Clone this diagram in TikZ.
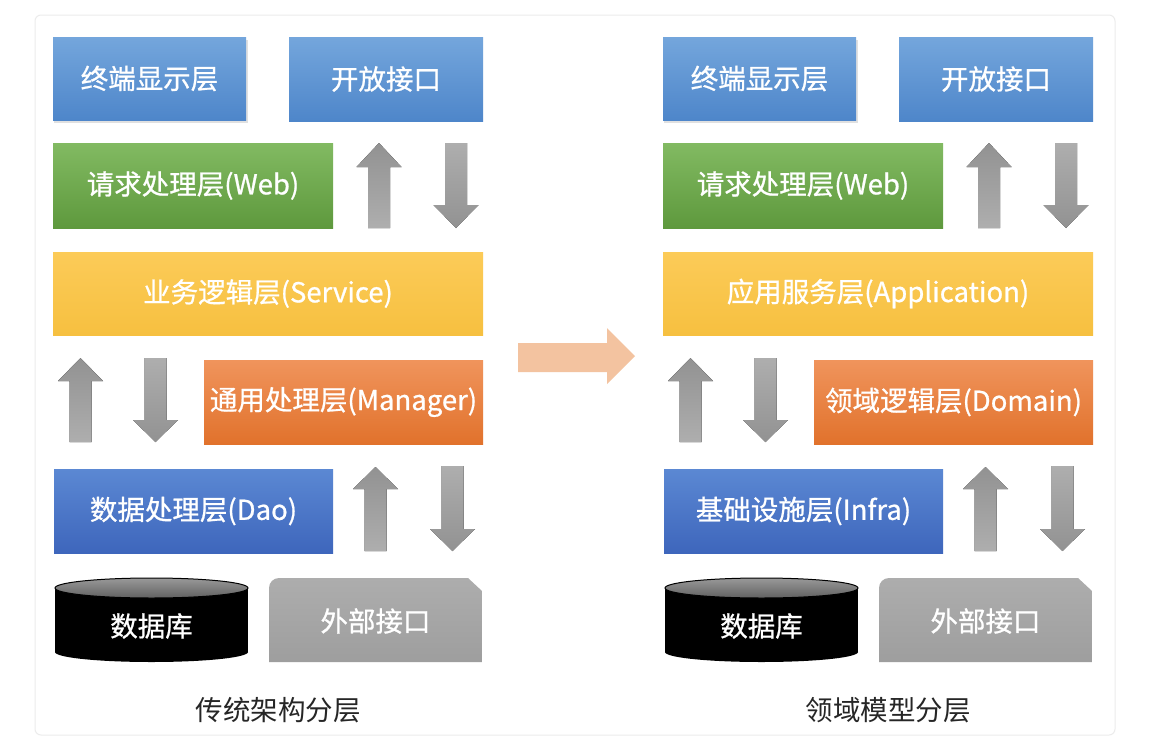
\documentclass[tikz,border=0pt]{standalone}
\usepackage{fontspec}
\setmainfont{Noto Sans CJK SC}
\newfontfamily\boxfont{Noto Sans CJK SC}[FakeBold=0.8]
\usetikzlibrary{shadows}
\definecolor{bluetopA}{HTML}{74A6DC}
\definecolor{bluetopB}{HTML}{4E86CA}
\definecolor{greenA}{HTML}{82BA62}
\definecolor{greenB}{HTML}{5E993D}
\definecolor{yellowA}{HTML}{FCCB58}
\definecolor{yellowB}{HTML}{F6C040}
\definecolor{orangeA}{HTML}{F0945C}
\definecolor{orangeB}{HTML}{E1722C}
\definecolor{daoA}{HTML}{5B88D3}
\definecolor{daoB}{HTML}{3E66BC}
\definecolor{grayA}{HTML}{929292}
\definecolor{grayB}{HTML}{AEAEAE}
\definecolor{extA}{HTML}{ADADAD}
\definecolor{extB}{HTML}{9E9E9E}
\definecolor{peach}{HTML}{F3C3A0}
\definecolor{framegray}{HTML}{ECECEC}
\tikzset{
  layer/.style={inner sep=0pt, text=white, font=\boxfont\fontsize{27.5}{32}\selectfont},
  bluebox/.style={layer, top color=bluetopA, bottom color=bluetopB},
  greenbox/.style={layer, top color=greenA, bottom color=greenB},
  yellowbox/.style={layer, top color=yellowA, bottom color=yellowB},
  orangebox/.style={layer, top color=orangeA, bottom color=orangeB},
  daobox/.style={layer, top color=daoA, bottom color=daoB},
  upgray/.style={top color=grayA, bottom color=grayB},
  downgray/.style={top color=grayB, bottom color=grayA},
  caption/.style={inner sep=0pt, text=black!85, font=\fontsize{27.5}{32}\selectfont},
}
% block arrows: #1 cx, #2 tip/top, #3 head base, #4 other end
\newcommand{\blkup}[4]{%
  \fill[upgray] ({#1-11},#4) -- ({#1-11},#3) -- ({#1-22.5},#3) -- (#1,#2)
    -- ({#1+22.5},#3) -- ({#1+11},#3) -- ({#1+11},#4) -- cycle;}
\newcommand{\blkdown}[4]{%
  \fill[downgray] ({#1-11},#2) -- ({#1-11},#3) -- ({#1-22.5},#3) -- (#1,#4)
    -- ({#1+22.5},#3) -- ({#1+11},#3) -- ({#1+11},#2) -- cycle;}
% #1 prefix, #2 shift, #3 yellow, #4 orange, #5 blue, #6 caption
\newcommand{\archcolumn}[6]{%
\begin{scope}[xshift=#2pt]
  \fill[black, opacity=0.12] (54,40) rectangle (248,123);
  \node[bluebox, minimum width=193pt, minimum height=83pt]
        (#1term) at (149.5,78.5) {终端显示层};
  \node[bluebox, minimum width=194pt, minimum height=84pt] (#1open) at (386,79) {开放接口};
  \node[greenbox, minimum width=280pt, minimum height=85pt] (#1web) at (193,185.5) {请求处理层(Web)};
  \node[yellowbox, minimum width=430pt, minimum height=83pt] (#1svc) at (268,293.5) {#3};
  \node[orangebox, minimum width=279pt, minimum height=84pt] (#1mgr) at (343.5,402) {#4};
  \node[daobox, minimum width=279pt, minimum height=84pt] (#1dao) at (193.5,511) {#5};
  \blkup{379}{143}{167}{228}
  \blkdown{456}{143}{205}{228}
  \blkup{80.5}{358}{381}{442}
  \blkdown{155.5}{358}{420}{442}
  \blkup{375.5}{467}{489}{551}
  \blkdown{452.5}{466}{529}{551}
  % database cylinder
  \fill[black] (55,588) rectangle (248,652);
  \fill[black] (151.5,652) ellipse (96.5 and 10);
  \shade[top color=black!40, bottom color=black!62, draw=black, line width=1pt]
     (151.5,588) ellipse (96.5 and 10);
  \node[layer] (#1db) at (151.5,626) {数据库};
  % external interface
  \shade[top color=extA, bottom color=extB]
     (269,662) -- (269,588) arc[start angle=180, end angle=270, radius=10]
     -- (468,578) -- (482,591) -- (482,662) -- cycle;
  \node[layer] (#1ext) at (375.5,621) {外部接口};
  \node[caption] (#1cap) at (278,710) {#6};
\end{scope}}
\begin{document}
\begin{tikzpicture}[x=1pt,y=-1pt]
  \path[use as bounding box, fill=white] (0,0) rectangle (1163,753);
  \draw[framegray, line width=1pt, rounded corners=6pt] (35,15) rectangle (1115,735);
  \archcolumn{L}{0}{业务逻辑层(Service)}{通用处理层(Manager)}{数据处理层(Dao)}{传统架构分层}
  \archcolumn{R}{610}{应用服务层(Application)}{领域逻辑层(Domain)}{基础设施层(Infra)}{领域模型分层}
  % big transition arrow
  \fill[peach] (518,343) -- (607,343) -- (607,328) -- (635,356) -- (607,384)
     -- (607,372) -- (518,372) -- cycle;
  \coordinate (bigtip) at (635,356);
\end{tikzpicture}
\end{document}
